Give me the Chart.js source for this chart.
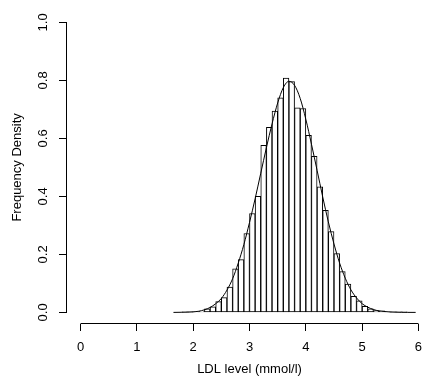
<!DOCTYPE html>
<html>
<head>
<meta charset="utf-8">
<script src="https://cdn.jsdelivr.net/npm/chart.js@4"></script>
<style>
  html, body { margin: 0; padding: 0; background: #fff; overflow: hidden; }
  #wrap { width: 432px; height: 384px; position: relative; }
</style>
</head>
<body>
<div id="wrap"><canvas id="histChart"></canvas></div>
<script>
// Histogram bins (mid points, width 0.1) and frequency densities
const binMids = [1.75, 1.85, 1.95, 2.05, 2.15, 2.25, 2.35, 2.45, 2.55, 2.65,
  2.75, 2.85, 2.95, 3.05, 3.15, 3.25, 3.35, 3.45, 3.55, 3.65,
  3.75, 3.85, 3.95, 4.05, 4.15, 4.25, 4.35, 4.45, 4.55, 4.65,
  4.75, 4.85, 4.95, 5.05, 5.15, 5.25, 5.35, 5.45, 5.55, 5.65,
  5.75, 5.85];
const binDensity = [0, 0.001, 0.001, 0.002, 0.004, 0.012, 0.019, 0.037, 0.051, 0.087,
  0.150, 0.182, 0.272, 0.341, 0.400, 0.576, 0.638, 0.694, 0.740, 0.808,
  0.796, 0.705, 0.703, 0.611, 0.538, 0.433, 0.352, 0.279, 0.203, 0.141,
  0.098, 0.055, 0.040, 0.021, 0.012, 0.006, 0.005, 0.002, 0.001, 0.001,
  0.001, 0];

// Smoothed density curve
const curveX = [1.65, 1.8, 1.9, 2.0, 2.1, 2.2, 2.3, 2.4, 2.5, 2.6,
  2.7, 2.8, 2.9, 3.0, 3.1, 3.2, 3.3, 3.4, 3.5, 3.6,
  3.7, 3.8, 3.9, 4.0, 4.1, 4.2, 4.3, 4.4, 4.5, 4.6,
  4.7, 4.8, 4.9, 5.0, 5.1, 5.2, 5.3, 5.4, 5.5, 5.6,
  5.7, 5.8, 5.95];
const curveY = [0, 0.0005, 0.001, 0.002, 0.004, 0.009, 0.017, 0.030, 0.048, 0.077,
  0.116, 0.170, 0.234, 0.310, 0.392, 0.480, 0.568, 0.650, 0.722, 0.775,
  0.797, 0.783, 0.738, 0.666, 0.580, 0.490, 0.398, 0.312, 0.236, 0.170,
  0.118, 0.078, 0.050, 0.030, 0.018, 0.010, 0.005, 0.003, 0.0015, 0.0008,
  0.0003, 0.0001, 0];

const xTicks = [0, 1, 2, 3, 4, 5, 6];
const yTicks = [0, 0.2, 0.4, 0.6, 0.8, 1.0];
const yTickLabels = ['0.0', '0.2', '0.4', '0.6', '0.8', '1.0'];

const FONT = '"Liberation Sans", Arial, Helvetica, sans-serif';

// R style detached axis lines + rotated y tick labels
const rAxes = {
  id: 'rAxes',
  afterDraw(chart) {
    const { ctx, scales: { x, y }, chartArea } = chart;
    ctx.save();
    ctx.strokeStyle = '#000';
    ctx.lineWidth = 1;
    ctx.beginPath();
    const xy = Math.round(chartArea.bottom) - 0.5;
    ctx.moveTo(x.getPixelForValue(xTicks[0]), xy);
    ctx.lineTo(x.getPixelForValue(xTicks[xTicks.length - 1]), xy);
    const yx = Math.round(chartArea.left) - 0.5;
    ctx.moveTo(yx, y.getPixelForValue(yTicks[0]));
    ctx.lineTo(yx, y.getPixelForValue(yTicks[yTicks.length - 1]));
    ctx.stroke();

    ctx.fillStyle = '#000';
    ctx.font = '13px ' + FONT;
    ctx.textAlign = 'center';
    ctx.textBaseline = 'middle';
    yTicks.forEach((v, i) => {
      ctx.save();
      ctx.translate(43, y.getPixelForValue(v));
      ctx.rotate(-Math.PI / 2);
      ctx.fillText(yTickLabels[i], 0, 0);
      ctx.restore();
    });
    ctx.restore();
  }
};

new Chart(document.getElementById('histChart'), {
  data: {
    datasets: [{
      type: 'line',
      data: curveX.map((v, i) => ({ x: v, y: curveY[i] })),
      borderColor: '#000',
      borderWidth: 1,
      pointRadius: 0,
      fill: false,
      cubicInterpolationMode: 'monotone',
      order: 0
    }, {
      type: 'bar',
      data: binMids.map((v, i) => ({ x: v, y: binDensity[i] })),
      backgroundColor: '#fff',
      borderColor: '#000',
      borderWidth: 1,
      borderSkipped: false,
      barPercentage: 1,
      categoryPercentage: 1,
      order: 1
    }]
  },
  options: {
    responsive: true,
    maintainAspectRatio: false,
    animation: false,
    layout: { padding: { top: 3, left: 0, right: 0, bottom: 0 } },
    plugins: { legend: { display: false }, tooltip: { enabled: false } },
    scales: {
      x: {
        type: 'linear',
        min: -0.24,
        max: 6.24,
        offset: false,
        afterBuildTicks: s => { s.ticks = xTicks.map(v => ({ value: v })); },
        afterFit: s => { s.height = 60; },
        grid: { display: true, offset: false, drawOnChartArea: false, drawTicks: true, tickLength: 7, color: '#000', lineWidth: 1 },
        border: { display: false },
        ticks: { color: '#000', font: { family: FONT, size: 13 }, padding: 9, maxRotation: 0, autoSkip: false },
        title: { display: true, text: 'LDL level (mmol/l)', color: '#000', font: { family: FONT, size: 13 }, padding: { top: 0, bottom: 7 } }
      },
      y: {
        type: 'linear',
        min: -0.04,
        max: 1.04,
        afterBuildTicks: s => { s.ticks = yTicks.map(v => ({ value: v })); },
        afterFit: s => { s.width = 67; },
        grid: { display: true, drawOnChartArea: false, drawTicks: true, tickLength: 8, color: '#000', lineWidth: 1 },
        border: { display: false },
        ticks: { color: 'rgba(0,0,0,0)', font: { family: FONT, size: 13 } },
        title: { display: true, text: 'Frequency Density', color: '#000', font: { family: FONT, size: 13 }, padding: { top: 10, bottom: 0 } }
      }
    }
  },
  plugins: [rAxes]
});
</script>
</body>
</html>
